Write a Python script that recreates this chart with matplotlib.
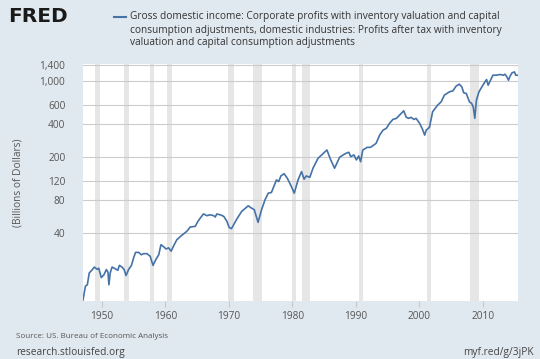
import numpy as np
import matplotlib.pyplot as plt
from matplotlib.lines import Line2D
from matplotlib.ticker import FixedLocator, FuncFormatter, NullLocator

# quarterly-ish readings of the series (decimal year, billions of dollars)
years = [1947.0, 1947.4, 1947.7, 1948.0, 1948.5, 1948.8, 1949.25, 1949.5, 1949.9, 1950.3,
         1950.7, 1950.95, 1951.1, 1951.3, 1951.6, 1952.1, 1952.5, 1952.75, 1953.2, 1953.5,
         1953.8, 1954.2, 1954.65, 1955.0, 1955.3, 1955.8, 1956.2, 1956.6, 1957.1, 1957.6,
         1958.05, 1958.5, 1958.95, 1959.3, 1959.7, 1960.1, 1960.5, 1960.9, 1961.3, 1961.8,
         1962.35, 1962.9, 1963.4, 1963.9, 1964.7, 1965.1, 1965.5, 1966.0, 1966.55, 1967.05,
         1967.6, 1967.85, 1968.1, 1968.65, 1969.2, 1969.7, 1970.05, 1970.4, 1970.6, 1971.2,
         1972.0, 1973.05, 1973.6, 1974.0, 1974.6, 1975.15, 1975.7, 1976.2, 1976.7, 1977.5,
         1977.85, 1978.2, 1978.7, 1979.2, 1979.85, 1980.3, 1980.9, 1981.45, 1981.85, 1982.2,
         1982.75, 1983.25, 1984.05, 1984.8, 1985.45, 1986.0, 1986.65, 1987.45, 1988.0, 1988.5,
         1988.9, 1989.2, 1989.7, 1990.1, 1990.45, 1990.75, 1991.1, 1991.8, 1992.3, 1992.85,
         1993.2, 1993.75, 1994.3, 1994.8, 1995.3, 1995.85, 1996.4, 1996.9, 1997.55, 1997.95,
         1998.35, 1998.7, 1999.15, 1999.5, 2000.05, 2000.45, 2000.85, 2001.1, 2001.6, 2002.1,
         2002.9, 2003.45, 2003.95, 2004.75, 2005.3, 2005.8, 2006.3, 2006.7, 2007.0, 2007.4,
         2007.9, 2008.25, 2008.5, 2008.75, 2009.0, 2009.4, 2009.8, 2010.35, 2010.6, 2010.85,
         2011.1, 2011.6, 2012.15, 2012.7, 2013.25, 2013.5, 2013.8, 2014.05, 2014.3, 2014.6,
         2015.0, 2015.2, 2015.5]
profits = [9.6, 13.0, 13.4, 17.2, 18.5, 19.5, 18.6, 19.0, 15.6, 16.5,
           18.5, 17.5, 13.4, 17.2, 19.5, 18.8, 18.2, 20.2, 19.4, 18.5,
           16.3, 18.5, 20.2, 23.8, 26.6, 26.6, 25.3, 25.9, 25.9, 24.5,
           20.2, 22.9, 25.3, 31.3, 30.1, 28.6, 29.3, 27.3, 30.6, 34.8,
           37.2, 39.5, 41.7, 45.5, 46.2, 51.1, 55.1, 60.1, 57.9, 59.0,
           57.9, 56.3, 60.0, 59.0, 57.0, 51.2, 45.0, 44.0, 46.0, 53.3,
           63.2, 71.4, 67.8, 65.7, 50.3, 65.7, 81.2, 93.3, 94.6, 123.5,
           119.2, 134.4, 140.8, 128.2, 107.3, 93.3, 123.5, 147.2, 125.5, 134.4,
           130.3, 158.2, 195.3, 214.3, 232.8, 191.5, 158.2, 199.6, 209.7, 217.6,
           221.8, 202.2, 209.7, 188.6, 205.0, 181.7, 232.8, 246.3, 246.3, 258.8,
           268.5, 319, 355, 368, 409, 445, 455, 488, 534, 465,
           455, 465, 445, 455, 409, 368, 319, 355, 376, 523,
           603, 646, 744, 798, 815, 900, 939, 887, 781, 771,
           646, 624, 581, 455, 669, 798, 875, 986, 1036, 919,
           986, 1135, 1135, 1152, 1135, 1159, 1095, 1021, 1111, 1192,
           1217, 1135, 1135]

rec_start = [1948.83, 1953.5, 1957.58, 1960.25, 1969.92, 1973.83, 1980.0, 1981.5, 1990.5, 2001.17, 2007.92]
rec_end = [1949.75, 1954.33, 1958.25, 1961.08, 1970.83, 1975.17, 1980.5, 1982.83, 1991.17, 2001.83, 2009.42]

y_ticks = [40, 80, 120, 200, 400, 600, 1000, 1400]
x_ticks = [1950, 1960, 1970, 1980, 1990, 2000, 2010]

BG = '#e1e9f0'
TXT = '#555555'
plt.rcParams['font.family'] = ['Open Sans', 'DejaVu Sans']

W, H = 540, 359
fig = plt.figure(figsize=(W / 100, H / 100), dpi=100, facecolor=BG)
ax = fig.add_axes([82.7 / W, 1 - 301 / H, (518.3 - 82.7) / W, (301 - 64.3) / H])
ax.set_facecolor('white')

for s, e in zip(rec_start, rec_end):
    ax.axvspan(s, e, color='#e6e6e6', lw=0, zorder=1)

ax.plot(years, profits, color='#4572a7', lw=1.2, zorder=3)

ax.set_yscale('log')
ax.set_ylim(9.5, 1430)
ax.set_xlim(1946.97, 2015.6)
ax.yaxis.set_major_locator(FixedLocator(y_ticks))
ax.yaxis.set_minor_locator(NullLocator())
ax.yaxis.set_major_formatter(FuncFormatter(lambda v, p: f"{int(v):,}"))
ax.set_xticks(x_ticks)
ax.grid(axis='y', color='#cccccc', lw=0.8, zorder=2)
ax.tick_params(axis='y', length=0, pad=12.5, labelsize=7.3, labelcolor=TXT)
ax.tick_params(axis='x', length=4, width=0.8, color='#c8c8c8', pad=3.5, labelsize=7.3, labelcolor=TXT)
for sp in ax.spines.values():
    sp.set_visible(False)

fig.text(18 / W, 1 - 183 / H, '(Billions of Dollars)', rotation=90, ha='center', va='center',
         fontsize=7.3, color=TXT)

# header: logo and legend entry
fig.text(8 / W, 1 - 17 / H, 'FRED', ha='left', va='center', fontsize=14.5,
         fontweight='heavy', family='DejaVu Sans', color='#1a1a1a')
fig.add_artist(Line2D([114 / W, 126 / W], [1 - 16.7 / H, 1 - 16.7 / H], color='#4572a7', lw=1.5))
fig.text(130 / W, 1 - 30 / H,
         'Gross domestic income: Corporate profits with inventory valuation and capital\n'
         'consumption adjustments, domestic industries: Profits after tax with inventory\n'
         'valuation and capital consumption adjustments',
         ha='left', va='center', fontsize=7.25, color='#333333', linespacing=1.25)

# footer
fig.text(16 / W, 1 - 337 / H, 'Source: US. Bureau of Economic Analysis', ha='left', va='center',
         fontsize=5.8, color=TXT)
fig.text(16 / W, 1 - 352 / H, 'research.stlouisfed.org', ha='left', va='center',
         fontsize=7.3, color='#444444')
fig.text(534 / W, 1 - 352 / H, 'myf.red/g/3jPK', ha='right', va='center',
         fontsize=7.3, color='#444444')

fig.savefig('out.png', dpi=100, facecolor=BG)
